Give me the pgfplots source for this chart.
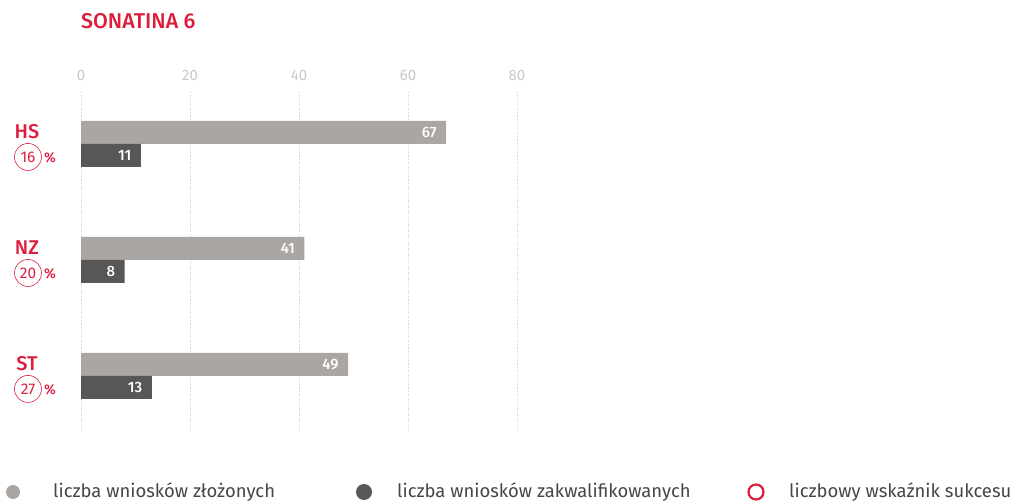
\documentclass[border=0pt]{standalone}
\usepackage{fontspec}
\setmainfont{Fira Sans}
\newfontfamily\firamed{Fira Sans Medium}
\usepackage{pgfplots}
\pgfplotsset{compat=1.18}
\definecolor{accent}{RGB}{220,30,60}
\definecolor{lightbar}{RGB}{170,166,163}
\definecolor{darkbar}{RGB}{88,87,86}
\definecolor{gridc}{RGB}{205,205,205}
\definecolor{tickc}{RGB}{200,200,200}
\definecolor{legtext}{RGB}{70,70,70}

% group label: y position, name, percent
\newcommand{\grp}[3]{%
  \node[text=accent, font=\firamed\fontsize{20}{20}\selectfont, inner sep=0, xshift=-54bp, yshift=12bp] at (axis cs:0,#1) {#2};
  \node[draw=accent, circle, line width=0.6pt, minimum size=27bp, inner sep=0, text=accent,
        font=\fontsize{15.5}{15.5}\selectfont, xshift=-53bp, yshift=-13bp] at (axis cs:0,#1) {#3};
  \node[text=accent, font=\firamed\fontsize{14}{14}\selectfont, inner sep=0, xshift=-31bp, yshift=-14bp] at (axis cs:0,#1) {\%};
}

\begin{document}
\begin{tikzpicture}
\useasboundingbox (0bp,0bp) rectangle (1020bp,501bp);
\node[anchor=west, text=accent, font=\firamed\fontsize{21.5}{21.5}\selectfont, inner sep=0] at (81bp,480bp) {SONATINA 6};
\begin{axis}[at={(81bp,71bp)}, anchor=south west, scale only axis,
  width=436bp, height=338bp,
  xbar, xmin=0, xmax=80, ymin=-0.466, ymax=2.448,
  bar width=23bp,
  xtick={0,20,...,80}, ytick=\empty, xticklabel pos=upper,
  axis line style={draw=none}, major tick length=0,
  xmajorgrids, grid style={dotted, gridc, line width=0.8pt},
  xticklabel style={text=tickc, font=\fontsize{15}{15}\selectfont, yshift=8bp},
  /pgf/number format/assume math mode=true,
  nodes near coords,
  nodes near coords style={anchor=east, text=white, font=\firamed\fontsize{15}{15}\selectfont, xshift=-6bp},
  clip=false]
\addplot[fill=lightbar, draw=none, bar shift=11.5bp] coordinates {(67,2) (41,1) (49,0)};
\addplot[fill=darkbar, draw=none, bar shift=-11.5bp] coordinates {(11,2) (8,1) (13,0)};
\grp{2}{HS}{16}
\grp{1}{NZ}{20}
\grp{0}{ST}{27}
\end{axis}
% legend
\fill[lightbar] (13bp,9bp) circle (7bp);
\node[anchor=west, inner sep=0, text=legtext, font=\fontsize{18.5}{18.5}\selectfont] at (53bp,9bp) {liczba wniosków złożonych};
\fill[darkbar] (364bp,9bp) circle (8bp);
\node[anchor=west, inner sep=0, text=legtext, font=\fontsize{18.5}{18.5}\selectfont] at (397bp,9bp) {liczba wniosków zakwalifikowanych};
\draw[accent, line width=2.2pt] (756bp,9bp) circle (7.5bp);
\node[anchor=west, inner sep=0, text=legtext, font=\fontsize{18.5}{18.5}\selectfont] at (789bp,9bp) {liczbowy wskaźnik sukcesu};
\end{tikzpicture}
\end{document}
